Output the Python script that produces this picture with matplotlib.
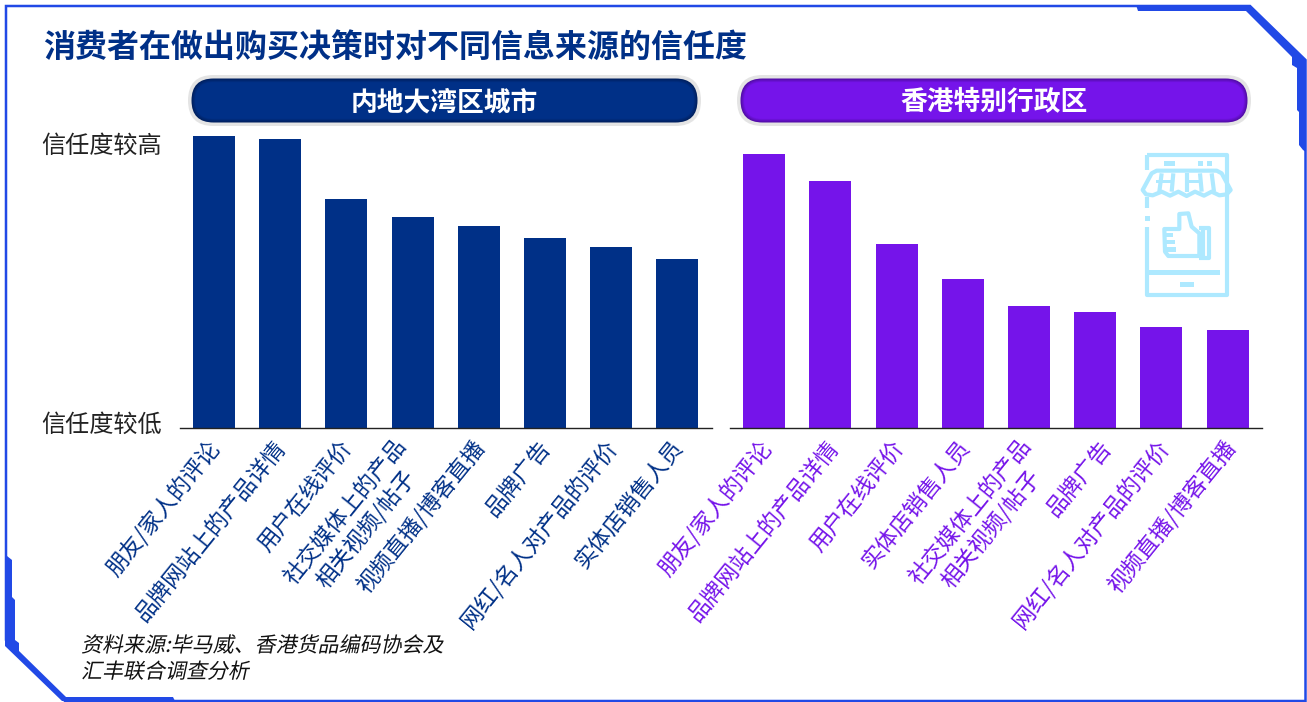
import matplotlib
matplotlib.use("Agg")
import matplotlib.patheffects as pe
import matplotlib.pyplot as plt
from matplotlib.colors import to_hex, to_rgb
from matplotlib.patches import FancyBboxPatch, Polygon, Rectangle
from matplotlib.transforms import Affine2D, ScaledTranslation

plt.rcParams["font.family"] = ["Noto Sans CJK SC", "DejaVu Sans"]

W, H = 1307, 702
NAVY = "#003087"
PURPLE = "#7514EA"
FRAME = "#2149E6"
ICON = "#AEE9FF"

mainland_labels = ["朋友/家人的评论", "品牌网站上的产品详情", "用户在线评价",
                   "社交媒体上的产品\n相关视频/帖子", "视频直播/博客直播", "品牌广告",
                   "网红/名人对产品的评价", "实体店销售人员"]
mainland_values = [292, 289, 229, 211, 202, 190, 181, 169]

hk_labels = ["朋友/家人的评论", "品牌网站上的产品详情", "用户在线评价", "实体店销售人员",
             "社交媒体上的产品\n相关视频/帖子", "品牌广告", "网红/名人对产品的评价",
             "视频直播/博客直播"]
hk_values = [274, 247, 184, 149, 122, 116, 101, 98]

y_tick_values = [285, 6]
y_tick_labels = ["信任度较高", "信任度较低"]


class Skew(pe.AbstractPathEffect):
    """CJK fonts ship no italic, so slant the glyph outlines instead."""

    def __init__(self, degrees):
        super().__init__()
        self.degrees = degrees

    def draw_path(self, renderer, gc, tpath, affine, rgbFace=None):
        slanted = Affine2D().skew_deg(self.degrees, 0) + affine
        renderer.draw_path(gc, tpath, slanted, rgbFace)


def px_axes(fig, left, right, top, bottom):
    return fig.add_axes([left / W, 1 - bottom / H, (right - left) / W, (bottom - top) / H])


def draw_bars(ax, labels, values, color, label_dx=0, two_line_dx=0, short_label_shift=0):
    xs = range(len(values))
    ax.bar(xs, values, width=0.634, color=color)
    ax.set_xlim(-0.513, 7.523)
    ax.set_ylim(0, 300)
    for side in ["top", "left", "right"]:
        ax.spines[side].set_visible(False)
    ax.spines["bottom"].set_linewidth(1.0)
    ax.spines["bottom"].set_color("#222222")
    ax.set_xticks(list(xs))
    ax.set_xticklabels(labels, rotation=51, ha="right", va="center", rotation_mode="anchor",
                       multialignment="center", color=color, fontsize=16.2, linespacing=1.2)
    ax.tick_params(axis="x", length=0, pad=11)
    ax.set_yticks([])
    ax.patch.set_alpha(0)

    # nudge labels in pixels: two-line labels sit lower, 品牌广告 has its own shift
    for tick_label in ax.get_xticklabels():
        text = tick_label.get_text()
        dx, dy = label_dx, 0
        if "\n" in text:
            dx, dy = two_line_dx, -7
        elif text == "品牌广告":
            dx += short_label_shift
        offset = ScaledTranslation(dx / 100, dy / 100, ax.figure.dpi_scale_trans)
        tick_label.set_transform(tick_label.get_transform() + offset)


def draw_pill(bg, x0, x1, y0, y1, color, dark, label):
    def pill(inset, fill):
        radius = (y1 - y0) / 2 - inset
        bg.add_patch(FancyBboxPatch((x0 + inset, y0 + inset), x1 - x0 - 2 * inset, y1 - y0 - 2 * inset,
                                    boxstyle="round,pad=0,rounding_size=%.1f" % radius,
                                    fc=fill, ec="none"))

    pill(0, "#E4E4E4")
    # darker rim fading into the fill
    for step in range(5):
        mix = step / 4
        shade = [d + (c - d) * mix for d, c in zip(to_rgb(dark), to_rgb(color))]
        pill(3.5 + step * 0.9, to_hex(shade))
    bg.text((x0 + x1) / 2, (y0 + y1) / 2 + 2, label, color="white", fontsize=19.3, fontweight="bold",
            ha="center", va="center")


def draw_frame(bg):
    # thin outline with thicker pieces around the two cut corners
    bg.add_patch(Polygon([(6, 6), (1250, 6), (1305.5, 60), (1305.5, 701), (65, 701), (6, 640)],
                         closed=True, fc="none", ec=FRAME, lw=1.8))
    bg.add_patch(Polygon([(1136, 5), (1250, 5), (1306, 60), (1306, 152), (1303, 150), (1299, 145), (1299, 112),
                          (1297, 110), (1297, 68), (1292, 65), (1292, 57), (1246, 11), (1138, 11)],
                         closed=True, fc=FRAME, ec="none"))
    bg.add_patch(Polygon([(5, 555), (7, 548), (7, 556), (12, 560), (12, 597), (15, 600), (15, 640), (19, 643),
                          (19, 651), (66, 697), (173, 697), (175, 701), (62, 701), (5, 646)],
                         closed=True, fc=FRAME, ec="none"))


def draw_icon(bg):
    def z(x, y):
        return 1120 + x / 3, y / 3

    lw = 3.0

    def line(points, closed=False):
        bg.add_patch(Polygon([z(*p) for p in points], closed=closed, fc="none", ec=ICON, lw=lw,
                             joinstyle="round"))

    def block(x0, y0, x1, y1):
        bg.add_patch(Rectangle(z(x0, y0), (x1 - x0) / 3, (y1 - y0) / 3, fc=ICON, ec="none"))

    # phone body
    line([(81, 466), (320, 466), (320, 885), (81, 885), (81, 680)])
    line([(81, 466), (81, 510)])
    line([(81, 590), (81, 625)])
    block(75, 648, 90, 662)
    block(88, 810, 300, 825)
    block(180, 846, 222, 860)
    block(132, 483, 165, 497)
    block(235, 483, 248, 497)
    block(262, 483, 275, 497)

    # awning
    line([(110, 512), (290, 512), (305, 520), (332, 570), (320, 583), (298, 586), (275, 575), (252, 587),
          (225, 575), (200, 588), (175, 575), (150, 587), (125, 575), (98, 586), (78, 583), (68, 570),
          (95, 520)], closed=True)
    line([(125, 520), (118, 575)])
    line([(160, 520), (155, 575)])
    line([(200, 520), (200, 575)])
    line([(240, 520), (245, 575)])
    line([(275, 520), (282, 575)])
    block(108, 540, 160, 550)
    block(200, 540, 245, 550)

    # thumbs up
    line([(133, 687), (178, 687), (178, 642), (205, 640), (215, 680), (238, 700), (238, 768), (145, 768),
          (135, 755)], closed=True)
    line([(238, 685), (268, 685), (268, 775), (238, 775)])
    line([(250, 688), (250, 772)])
    block(135, 698, 160, 712)
    block(135, 720, 165, 733)
    block(135, 742, 168, 755)


fig = plt.figure(figsize=(W / 100, H / 100), dpi=100)
bg = fig.add_axes([0, 0, 1, 1])
bg.set_xlim(0, W)
bg.set_ylim(H, 0)
bg.axis("off")

draw_frame(bg)
draw_icon(bg)

bg.text(43, 48, "消费者在做出购买决策时对不同信息来源的信任度", color=NAVY, fontsize=23, fontweight="bold",
        ha="left", va="center")
draw_pill(bg, 188, 701, 75, 126, NAVY, "#00205F", "内地大湾区城市")
draw_pill(bg, 737, 1251, 75, 126, PURPLE, "#520CA8", "香港特别行政区")

ax_left = px_axes(fig, 180, 712, 128, 428)
draw_bars(ax_left, mainland_labels, mainland_values, NAVY, label_dx=1, two_line_dx=0)
ax_left.set_yticks(y_tick_values)
ax_left.set_yticklabels(y_tick_labels, fontsize=17.4, color="#222222")
ax_left.tick_params(axis="y", length=0, pad=13)

ax_right = px_axes(fig, 730.3, 1262.3, 128, 428)
draw_bars(ax_right, hk_labels, hk_values, PURPLE, label_dx=3, two_line_dx=8, short_label_shift=9)

bg.text(81, 659, "资料来源:毕马威、香港货品编码协会及\n汇丰联合调查分析", color="#111111", fontsize=15.1,
        ha="left", va="center", linespacing=1.25, path_effects=[Skew(12)])

fig.savefig("out.png", dpi=100)
